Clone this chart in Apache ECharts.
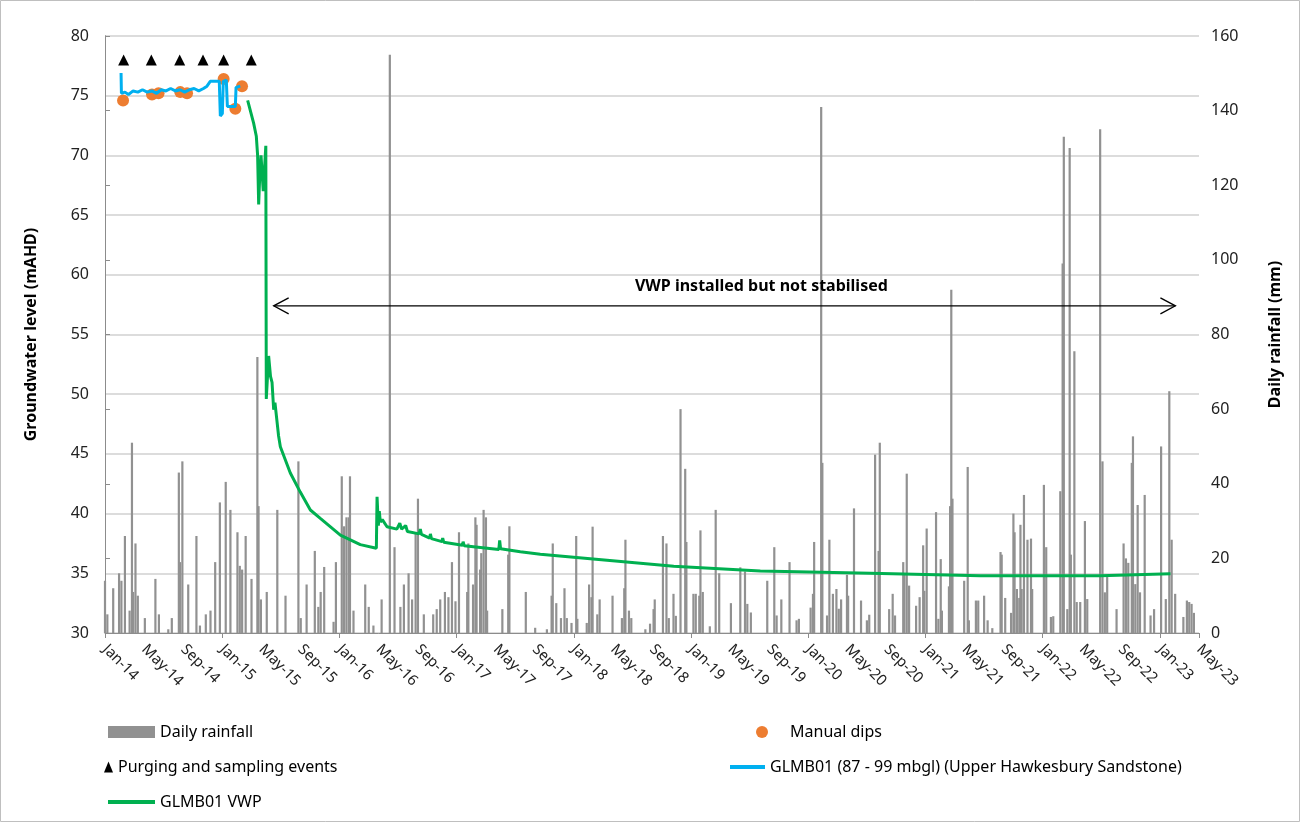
<!DOCTYPE html>
<html><head><meta charset="utf-8">
<script src="https://cdn.jsdelivr.net/npm/echarts@6/dist/echarts.min.js"></script>
<style>html,body{margin:0;padding:0;background:#fff}#c{width:1300px;height:822px}</style>
</head><body><div id="c"></div>
<script>
// ---- Data (time given as decimal years) ----
const xLabelMonths = ['Jan', 'May', 'Sep'];
const xStartYear = 2014;
const xMonthsSpan = 112; // Jan-14 .. May-23
const leftTicks = { min: 30, max: 80, step: 5 };
const rightTicks = { min: 0, max: 160, step: 20 };

// Daily rainfall [decimal year, mm]
const rainfall = [
[2014.00,14],[2014.02,5],[2014.07,12],[2014.12,16],[2014.14,14],[2014.17,26],[2014.21,6],[2014.23,51],[2014.24,11],[2014.26,24],
[2014.28,10],[2014.34,4],[2014.43,14.5],[2014.46,5],[2014.54,1],[2014.57,4],[2014.63,43],[2014.64,19],[2014.66,46],[2014.71,13],
[2014.78,26],[2014.81,2],[2014.86,5],[2014.90,6],[2014.94,19],[2014.98,35],[2015.03,40.5],[2015.07,33],[2015.13,27],[2015.15,18],
[2015.17,17],[2015.20,26],[2015.25,14.5],[2015.30,74],[2015.31,34],[2015.33,9],[2015.38,11],[2015.47,33],[2015.54,10],[2015.65,46],
[2015.67,4],[2015.72,13],[2015.79,22],[2015.82,7],[2015.84,11],[2015.87,17.7],[2015.95,3],[2015.97,19],[2016.02,42],[2016.04,28.6],
[2016.06,31],[2016.08,31],[2016.09,42],[2016.12,6],[2016.22,13],[2016.25,7],[2016.29,2],[2016.36,9],[2016.43,155],[2016.47,23],
[2016.52,7],[2016.55,13],[2016.59,16],[2016.62,9],[2016.65,27],[2016.67,36],[2016.72,5],[2016.80,5],[2016.83,6.4],[2016.86,9],
[2016.90,11],[2016.93,9.6],[2016.96,19],[2016.99,8.5],[2017.02,27],[2017.09,11],[2017.10,24],[2017.14,13],[2017.16,31],[2017.17,29],
[2017.20,17],[2017.21,21.4],[2017.23,33],[2017.25,31],[2017.26,6],[2017.39,6.4],[2017.44,21],[2017.45,28.6],[2017.59,11],[2017.67,1.4],
[2017.77,1],[2017.81,10],[2017.82,24],[2017.85,8],[2017.89,4],[2017.92,12],[2017.94,4],[2017.98,2.7],[2018.02,26],[2018.03,3.8],
[2018.11,2.7],[2018.13,13],[2018.15,9.6],[2018.16,28.5],[2018.20,5],[2018.22,9],[2018.33,10],[2018.41,4],[2018.43,12],[2018.44,25],
[2018.47,6],[2018.49,4],[2018.61,1],[2018.65,2.5],[2018.68,6.4],[2018.69,9],[2018.76,26],[2018.79,24],[2018.81,4],[2018.85,10.5],
[2018.87,4.6],[2018.91,60],[2018.95,44],[2018.96,24.4],[2019.02,10.5],[2019.04,10.5],[2019.07,10],[2019.08,27.5],[2019.10,11],[2019.16,1.8],
[2019.21,33],[2019.24,16],[2019.34,8],[2019.42,17.6],[2019.46,16.5],[2019.48,7.8],[2019.51,5.5],[2019.65,14],[2019.71,23],[2019.73,4.7],
[2019.77,9],[2019.84,19],[2019.90,3.4],[2019.92,3.8],[2020.02,6.8],[2020.04,10.5],[2020.05,24.4],[2020.11,141],[2020.12,45.6],[2020.16,4.7],
[2020.18,25],[2020.21,10.5],[2020.24,11.8],[2020.26,6.5],[2020.28,9],[2020.33,15.6],[2020.34,10],[2020.39,33.4],[2020.45,8.7],[2020.50,3.4],
[2020.52,4.9],[2020.57,47.8],[2020.60,22],[2020.61,51],[2020.69,6.4],[2020.72,10.5],[2020.74,4.7],[2020.81,19],[2020.82,16],[2020.84,42.7],
[2020.86,12.7],[2020.92,7.3],[2020.95,9.6],[2020.98,23.5],[2020.99,11.3],[2021.01,28],[2021.09,32.4],[2021.11,3.8],[2021.13,19.8],[2021.14,6],
[2021.20,12.5],[2021.21,34],[2021.22,92],[2021.23,36],[2021.33,14],[2021.36,44.5],[2021.37,3.4],[2021.43,8.7],[2021.45,8.7],[2021.50,10],
[2021.53,3.4],[2021.57,1.3],[2021.64,21.7],[2021.65,21],[2021.68,9.4],[2021.73,5.4],[2021.75,32],[2021.76,27],[2021.78,11.8],[2021.80,9.4],
[2021.81,29],[2021.82,11.8],[2021.84,37],[2021.87,25],[2021.90,25.3],[2021.91,11.8],[2022.01,39.7],[2022.03,23],[2022.07,4.3],[2022.09,4.5],
[2022.15,38],[2022.17,99],[2022.18,133],[2022.21,6.4],[2022.23,130],[2022.24,21],[2022.27,75.5],[2022.29,8.3],[2022.32,8.3],[2022.36,30],
[2022.38,9.1],[2022.49,135],[2022.51,46],[2022.53,10.9],[2022.55,15],[2022.63,6.4],[2022.69,24],[2022.71,20],[2022.73,18.8],[2022.76,45.6],
[2022.77,52.7],[2022.79,13.1],[2022.81,34.3],[2022.83,10.9],[2022.87,37],[2022.92,4.7],[2022.95,6.4],[2023.01,50],[2023.05,9.1],[2023.08,64.8],
[2023.10,25],[2023.13,10.5],[2023.20,4.3],[2023.23,8.7],[2023.25,8.3],[2023.27,7.8],[2023.29,5.4]
];

// GLMB01 VWP [decimal year, mAHD]
const vwp = [
[2015.217,74.6],[2015.268,72.7],[2015.291,71.6],[2015.302,70.0],[2015.311,65.9],[2015.321,68.5],[2015.331,70.0],[2015.350,67.0],
[2015.372,70.8],[2015.376,49.6],[2015.396,53.2],[2015.412,51.5],[2015.425,51.0],[2015.439,48.7],[2015.450,49.3],[2015.481,46.5],
[2015.496,45.6],[2015.581,43.4],[2015.666,41.8],[2015.752,40.3],[2015.837,39.6],[2016.008,38.2],[2016.178,37.4],[2016.315,37.1],
[2016.321,41.4],[2016.332,39.0],[2016.340,40.2],[2016.349,39.3],[2016.366,39.5],[2016.406,38.9],[2016.490,38.7],[2016.515,39.2],
[2016.530,38.7],[2016.565,39.0],[2016.580,38.5],[2016.680,38.3],[2016.690,38.7],[2016.700,38.25],[2016.770,37.95],[2016.776,38.3],
[2016.785,37.9],[2016.875,37.65],[2016.881,37.95],[2016.890,37.6],[2017.050,37.35],[2017.055,37.65],[2017.065,37.3],[2017.360,37.0],
[2017.367,37.75],[2017.375,37.05],[2017.543,36.8],[2017.714,36.6],[2018.283,36.1],[2018.852,35.6],[2019.591,35.2],[2020.530,35.0],
[2021.468,34.8],[2022.492,34.8],[2023.090,34.97]
];

// GLMB01 (87 - 99 mbgl) logger [decimal year, mAHD]
const logger = [
[2014.137,76.9],[2014.140,75.2],[2014.17,75.3],[2014.20,75.1],[2014.24,75.4],[2014.28,75.3],[2014.32,75.5],[2014.36,75.3],
[2014.40,75.4],[2014.44,75.2],[2014.48,75.5],[2014.52,75.4],[2014.56,75.6],[2014.60,75.4],[2014.64,75.5],[2014.68,75.3],
[2014.72,75.5],[2014.76,75.6],[2014.80,75.4],[2014.84,75.6],[2014.87,75.8],[2014.898,76.2],[2014.975,76.2],[2014.984,73.3],
[2015.001,73.5],[2015.009,76.2],[2015.035,76.3],[2015.044,74.1],[2015.112,74.1],[2015.118,75.7],[2015.154,75.8]
];

// Manual dips [decimal year, mAHD]
const manualDips = [
[2014.154,74.6],[2014.401,75.1],[2014.457,75.2],[2014.642,75.3],[2014.700,75.2],[2015.012,76.4],[2015.112,73.9],[2015.169,75.8]
];

// Purging and sampling events [decimal year]
const purgingEvents = [2014.159, 2014.395, 2014.637, 2014.836, 2015.012, 2015.248];
const purgingLevel = 78;

// Annotation arrow
const noteFrom = 2015.439, noteTo = 2023.132, noteLevel = 57.4;
const noteTextAt = [2019.60, 59.0];
const noteText = 'VWP installed but not stabilised';

const names = {
  rain: 'Daily rainfall',
  dips: 'Manual dips',
  purge: 'Purging and sampling events',
  logger: 'GLMB01 (87 - 99 mbgl) (Upper Hawkesbury Sandstone)',
  vwp: 'GLMB01 VWP'
};

// ---- Chart ----
const toX = t => (t - xStartYear) * 12;
const FONT = 'Noto Sans';
const chart = echarts.init(document.getElementById('c'));

function leg(name, left, top, w, h, icon) {
  return { data: [{ name: name, icon: icon }], left: left, top: top, itemWidth: w, itemHeight: h,
    selectedMode: false, padding: 0, textStyle: { fontSize: 16, color: '#000', fontFamily: FONT } };
}

const axisGray = '#8c8c8c';

chart.setOption({
  animation: false,
  backgroundColor: '#fff',
  grid: { left: 105, right: 101, top: 36, bottom: 189 },
  graphic: [{ type: 'rect', shape: { x: 0.5, y: 0.5, width: 1299, height: 821 }, style: { fill: 'none', stroke: '#bfbfbf', lineWidth: 1 }, silent: true }],
  legend: [
    leg(names.rain, 108, 724, 47, 12, 'rect'),
    leg(names.dips, 756, 724, 46, 12, 'circle'),
    leg(names.purge, 104, 759, 9, 11, 'triangle'),
    leg(names.logger, 730, 759, 35, 4, 'rect'),
    leg(names.vwp, 108, 794, 47, 4, 'rect')
  ],
  xAxis: [{
    type: 'value', min: 0, max: xMonthsSpan, interval: 4,
    axisLine: { show: true, lineStyle: { color: axisGray, width: 1 } },
    axisTick: { show: false }, splitLine: { show: false },
    axisLabel: { rotate: -45, margin: 14, fontSize: 15, color: '#222', fontFamily: FONT,
      formatter: v => xLabelMonths[Math.round(v / 4) % 3] + '-' + String(xStartYear - 2000 + Math.floor(Math.round(v) / 12)) }
  }, {
    type: 'value', min: 0, max: xMonthsSpan, interval: 12, position: 'bottom',
    axisLine: { show: false }, axisLabel: { show: false }, splitLine: { show: false },
    axisTick: { show: true, length: 5, lineStyle: { color: axisGray } }
  }],
  yAxis: [{
    type: 'value', min: leftTicks.min, max: leftTicks.max, interval: leftTicks.step,
    name: 'Groundwater level (mAHD)', nameLocation: 'middle', nameRotate: 90, nameGap: 66,
    nameTextStyle: { fontSize: 16, fontWeight: 'bold', color: '#000', fontFamily: FONT },
    axisLine: { show: true, lineStyle: { color: axisGray } },
    axisTick: { show: false },
    axisLabel: { fontSize: 16, color: '#222', margin: 16, fontFamily: FONT },
    splitLine: { show: true, lineStyle: { color: '#dcdcdc', width: 2 } }
  }, {
    type: 'value', min: rightTicks.min, max: rightTicks.max, interval: rightTicks.step,
    name: 'Daily rainfall (mm)', nameLocation: 'middle', nameRotate: 90, nameGap: 68,
    nameTextStyle: { fontSize: 16, fontWeight: 'bold', color: '#000', fontFamily: FONT },
    axisLine: { show: true, lineStyle: { color: axisGray } },
    axisTick: { show: true, length: 5, lineStyle: { color: axisGray } },
    axisLabel: { fontSize: 16, color: '#222', margin: 12, fontFamily: FONT },
    splitLine: { show: false }
  }],
  series: [
    { name: names.rain, type: 'bar', xAxisIndex: 0, yAxisIndex: 1, barWidth: 2.2,
      itemStyle: { color: '#919191' }, data: rainfall.map(d => [toX(d[0]), d[1]]), z: 1 },
    { name: names.vwp, type: 'line', xAxisIndex: 0, yAxisIndex: 0, showSymbol: false, symbol: 'none',
      color: '#00b050', lineStyle: { color: '#00b050', width: 3 }, data: vwp.map(d => [toX(d[0]), d[1]]), z: 3 },
    { name: names.dips, type: 'scatter', xAxisIndex: 0, yAxisIndex: 0, symbol: 'circle', symbolSize: 12,
      itemStyle: { color: '#ed7d31', opacity: 1 }, data: manualDips.map(d => [toX(d[0]), d[1]]), z: 4 },
    { name: names.logger, type: 'line', xAxisIndex: 0, yAxisIndex: 0, showSymbol: false, symbol: 'none',
      color: '#00b0f0', lineStyle: { color: '#00b0f0', width: 3 }, data: logger.map(d => [toX(d[0]), d[1]]), z: 5 },
    { name: names.purge, type: 'scatter', xAxisIndex: 0, yAxisIndex: 0, symbol: 'triangle', symbolSize: [11, 11],
      itemStyle: { color: '#000', opacity: 1 }, data: purgingEvents.map(t => [toX(t), purgingLevel]), z: 6 },
    { name: 'note', type: 'custom', xAxisIndex: 0, yAxisIndex: 0, silent: true, clip: false, z: 7,
      data: [[toX(noteFrom), noteLevel, toX(noteTo), toX(noteTextAt[0]), noteTextAt[1]]],
      encode: { x: [0, 2], y: 1 },
      renderItem: function (params, api) {
        const a = api.coord([api.value(0), api.value(1)]);
        const b = api.coord([api.value(2), api.value(1)]);
        const t = api.coord([api.value(3), api.value(4)]);
        const ah = 15, aw = 8;
        const st = { stroke: '#000', lineWidth: 1.3, fill: 'none' };
        return { type: 'group', children: [
          { type: 'line', shape: { x1: a[0], y1: a[1], x2: b[0], y2: b[1] }, style: st },
          { type: 'polyline', shape: { points: [[a[0] + ah, a[1] - aw], [a[0], a[1]], [a[0] + ah, a[1] + aw]] }, style: st },
          { type: 'polyline', shape: { points: [[b[0] - ah, b[1] - aw], [b[0], b[1]], [b[0] - ah, b[1] + aw]] }, style: st },
          { type: 'text', x: t[0], y: t[1], style: { text: noteText, fill: '#000', font: 'bold 16px "' + FONT + '"', align: 'center', verticalAlign: 'middle' } }
        ] };
      }
    }
  ]
});
</script></body></html>
